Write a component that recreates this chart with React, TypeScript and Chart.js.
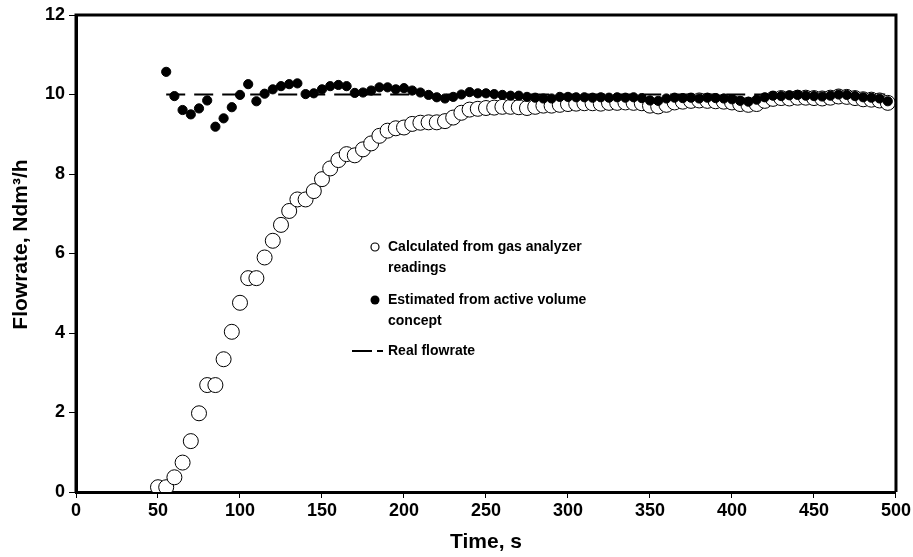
import React, { useEffect, useRef } from "react";
import { Chart, registerables } from "chart.js";

Chart.register(...registerables);

// Time stamps (s) for the gas-analyzer series
const timeCalculated: number[] = [
  50, 55, 60, 65, 70, 75, 80, 85, 90, 95, 100, 105, 110, 115, 120, 125, 130, 135, 140, 145,
  150, 155, 160, 165, 170, 175, 180, 185, 190, 195, 200, 205, 210, 215, 220, 225, 230, 235, 240, 245,
  250, 255, 260, 265, 270, 275, 280, 285, 290, 295, 300, 305, 310, 315, 320, 325, 330, 335, 340, 345,
  350, 355, 360, 365, 370, 375, 380, 385, 390, 395, 400, 405, 410, 415, 420, 425, 430, 435, 440, 445,
  450, 455, 460, 465, 470, 475, 480, 485, 490, 495,
];

// Flowrate calculated from gas analyzer readings (Ndm3/h)
const flowCalculated: number[] = [
  0.12, 0.12, 0.37, 0.74, 1.28, 1.98, 2.69, 2.69, 3.34, 4.03, 4.76, 5.38, 5.38, 5.9, 6.32, 6.72, 7.07, 7.36, 7.36, 7.57,
  7.87, 8.14, 8.35, 8.5, 8.47, 8.62, 8.77, 8.96, 9.09, 9.15, 9.17, 9.26, 9.29, 9.3, 9.3, 9.33, 9.42, 9.54, 9.62, 9.64,
  9.66, 9.67, 9.69, 9.69, 9.68, 9.66, 9.69, 9.72, 9.72, 9.74, 9.76, 9.77, 9.78, 9.78, 9.77, 9.79, 9.79, 9.8, 9.79, 9.78,
  9.72, 9.7, 9.74, 9.8, 9.82, 9.84, 9.85, 9.84, 9.83, 9.82, 9.8, 9.76, 9.74, 9.76, 9.84, 9.89, 9.91, 9.9, 9.92, 9.92,
  9.91, 9.9, 9.92, 9.95, 9.94, 9.91, 9.88, 9.87, 9.85, 9.79,
];

// Time stamps (s) for the active-volume estimate
const timeEstimated: number[] = [
  55, 60, 65, 70, 75, 80, 85, 90, 95, 100, 105, 110, 115, 120, 125, 130, 135, 140, 145,
  150, 155, 160, 165, 170, 175, 180, 185, 190, 195, 200, 205, 210, 215, 220, 225, 230, 235, 240, 245,
  250, 255, 260, 265, 270, 275, 280, 285, 290, 295, 300, 305, 310, 315, 320, 325, 330, 335, 340, 345,
  350, 355, 360, 365, 370, 375, 380, 385, 390, 395, 400, 405, 410, 415, 420, 425, 430, 435, 440, 445,
  450, 455, 460, 465, 470, 475, 480, 485, 490, 495,
];

// Flowrate estimated from the active volume concept (Ndm3/h)
const flowEstimated: number[] = [
  10.57, 9.96, 9.61, 9.5, 9.65, 9.85, 9.19, 9.4, 9.68, 9.99, 10.26, 9.83, 10.02, 10.13, 10.21, 10.26, 10.28, 10.01, 10.03,
  10.13, 10.21, 10.24, 10.21, 10.04, 10.05, 10.1, 10.18, 10.18, 10.13, 10.16, 10.1, 10.05, 9.99, 9.93, 9.9, 9.94, 10.0, 10.06, 10.03,
  10.03, 10.01, 9.99, 9.97, 9.97, 9.94, 9.92, 9.9, 9.9, 9.94, 9.94, 9.93, 9.93, 9.92, 9.93, 9.92, 9.93, 9.92, 9.93, 9.91,
  9.85, 9.84, 9.9, 9.92, 9.91, 9.92, 9.9, 9.92, 9.91, 9.9, 9.88, 9.84, 9.82, 9.87, 9.93, 9.97, 9.96, 9.98, 9.99, 9.97,
  9.96, 9.95, 9.97, 10.0, 9.99, 9.96, 9.93, 9.92, 9.9, 9.83,
];

// Real (set) flowrate
const timeReal: number[] = [55, 495];
const flowReal: number[] = [10, 10];

// Axis ticks and labels
const xTicks: number[] = [0, 50, 100, 150, 200, 250, 300, 350, 400, 450, 500];
const yTicks: number[] = [0, 2, 4, 6, 8, 10, 12];
const xTitle = "Time, s";
const yTitle = "Flowrate, Ndm\u00B3/h";

// Legend entries (multi-line labels)
const legendCalculated: string[] = ["Calculated from gas analyzer", "readings"];
const legendEstimated: string[] = ["Estimated from active volume", "concept"];
const legendReal: string[] = ["Real flowrate"];

const FONT = "'Liberation Sans', Arial, sans-serif";

const toPoints = (xs: number[], ys: number[]) => xs.map((x, i) => ({ x, y: ys[i] }));

// Draws the frame box, the y-axis title and the in-plot legend
const framePlugin = {
  id: "frameAndLegend",
  afterDraw(chart: any) {
    const { ctx, chartArea } = chart;
    const { left, right, top, bottom } = chartArea;
    ctx.save();
    ctx.strokeStyle = "#000";
    ctx.lineWidth = 3;
    ctx.beginPath();
    ctx.moveTo(left, bottom);
    ctx.lineTo(left, top);
    ctx.lineTo(right, top);
    ctx.lineTo(right, bottom);
    ctx.stroke();

    // y-axis title, rotated
    ctx.save();
    ctx.translate(21, (top + bottom) / 2 - 9);
    ctx.rotate(-Math.PI / 2);
    ctx.font = `bold 21px ${FONT}`;
    ctx.fillStyle = "#000";
    ctx.textAlign = "center";
    ctx.textBaseline = "middle";
    ctx.fillText(yTitle, 0, 0);
    ctx.restore();

    // legend
    const lx = 388;
    const lineH = 21;
    ctx.font = `bold 14px ${FONT}`;
    ctx.fillStyle = "#000";
    ctx.textBaseline = "middle";
    ctx.textAlign = "left";

    const drawLines = (lines: string[], y0: number) => {
      lines.forEach((t, i) => ctx.fillText(t, lx, y0 + i * lineH));
    };

    // open circle entry
    ctx.beginPath();
    ctx.arc(375, 247, 4, 0, Math.PI * 2);
    ctx.fillStyle = "#fff";
    ctx.fill();
    ctx.lineWidth = 1.2;
    ctx.strokeStyle = "#000";
    ctx.stroke();
    ctx.fillStyle = "#000";
    drawLines(legendCalculated, 247);

    // filled circle entry
    ctx.beginPath();
    ctx.arc(375, 300, 4.5, 0, Math.PI * 2);
    ctx.fill();
    drawLines(legendEstimated, 300);

    // dashed line entry
    ctx.lineWidth = 2;
    ctx.beginPath();
    ctx.moveTo(352, 351);
    ctx.lineTo(372, 351);
    ctx.moveTo(377, 351);
    ctx.lineTo(383, 351);
    ctx.stroke();
    drawLines(legendReal, 351);
    ctx.restore();
  },
};

export default function App() {
  const canvasRef = useRef<HTMLCanvasElement | null>(null);

  useEffect(() => {
    if (!canvasRef.current) return;
    const tickFont = { family: FONT, size: 18, weight: "bold" as const };
    const titleFont = { family: FONT, size: 21, weight: "bold" as const };

    const chart = new Chart(canvasRef.current, {
      type: "scatter",
      data: {
        datasets: [
          {
            label: legendEstimated.join(" "),
            data: toPoints(timeEstimated, flowEstimated),
            showLine: false,
            pointRadius: 4.6,
            pointBackgroundColor: "#000",
            pointBorderColor: "#000",
            pointBorderWidth: 1,
            order: 0,
          },
          {
            label: legendCalculated.join(" "),
            data: toPoints(timeCalculated, flowCalculated),
            showLine: false,
            pointRadius: 7.5,
            pointBackgroundColor: "#fff",
            pointBorderColor: "#000",
            pointBorderWidth: 1,
            order: 1,
          },
          {
            label: legendReal[0],
            data: toPoints(timeReal, flowReal),
            showLine: true,
            borderColor: "#000",
            borderWidth: 2,
            borderDash: [19, 9],
            pointRadius: 0,
            order: 2,
          },
        ],
      },
      options: {
        animation: false,
        responsive: false,
        maintainAspectRatio: false,
        layout: { padding: { top: 15, right: 16, left: 0, bottom: 0 } },
        plugins: {
          legend: { display: false },
          tooltip: { enabled: false },
        },
        scales: {
          x: {
            type: "linear",
            min: 0,
            max: 500,
            afterBuildTicks: (scale: any) => {
              scale.ticks = xTicks.map((v) => ({ value: v }));
            },
            afterFit: (scale: any) => {
              scale.height = 65;
            },
            ticks: { font: tickFont, color: "#000", padding: 2, maxRotation: 0 },
            grid: {
              display: true,
              drawOnChartArea: false,
              drawTicks: true,
              tickLength: 6,
              tickWidth: 1,
              tickColor: "#000",
            },
            border: { display: true, color: "#000", width: 3 },
            title: {
              display: true,
              text: xTitle,
              font: titleFont,
              color: "#000",
              padding: { top: 0, bottom: 2 },
            },
          },
          y: {
            type: "linear",
            min: 0,
            max: 12,
            afterBuildTicks: (scale: any) => {
              scale.ticks = yTicks.map((v) => ({ value: v }));
            },
            afterFit: (scale: any) => {
              scale.width = 76;
            },
            ticks: { font: tickFont, color: "#000", padding: 4 },
            grid: {
              display: true,
              drawOnChartArea: false,
              drawTicks: true,
              tickLength: 7,
              tickWidth: 1,
              tickColor: "#000",
            },
            border: { display: true, color: "#000", width: 3 },
          },
        },
      },
      plugins: [framePlugin],
    });
    return () => chart.destroy();
  }, []);

  return (
    <div style={{ position: "absolute", left: 0, top: 0, width: 913, height: 557, background: "#fff" }}>
      <canvas ref={canvasRef} width={913} height={557} />
    </div>
  );
}
